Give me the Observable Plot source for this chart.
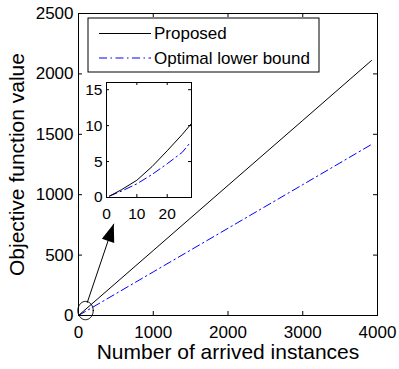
<!DOCTYPE html>
<html><head><meta charset="utf-8">
<script src="https://cdn.jsdelivr.net/npm/d3@7"></script>
<script src="https://cdn.jsdelivr.net/npm/@observablehq/plot@0.6"></script>
<style>
body{margin:0;background:#fff;}
#wrap{position:relative;width:399px;height:369px;font-family:"Liberation Sans",Arial,Helvetica,sans-serif;}
#wrap > svg{position:absolute;left:0;top:0;}
</style></head><body><div id="wrap"></div>
<script>
// ---- data ----
const seriesNames = ["Proposed", "Optimal lower bound"];
const instances = [0, 1000, 2000, 3000, 3920];
const proposed = [0, 538, 1077, 1615, 2111];
const lowerBound = [0, 361, 722, 1083, 1416];
const xTicks = [0, 1000, 2000, 3000, 4000];
const yTicks = [0, 500, 1000, 1500, 2000, 2500];

const insetInstances = [1, 5, 10, 15, 20, 25, 28];
const insetProposed = [0.2, 1.1, 2.4, 4.3, 6.5, 8.8, 10.3];
const insetLowerX = [1, 5, 10, 15, 20, 25, 27.5];
const insetLower = [0.2, 0.9, 1.9, 3.2, 4.7, 6.3, 7.6];
const insetXTicks = [0, 10, 20];
const insetYTicks = [0, 5, 10, 15];

// annotation (data units of main chart)
const ellipseCenter = [94, 41];
const ellipseRadius = [103, 76];
const arrowFrom = [116, 105];
const arrowTo = [472, 759];

const FONT = '"Liberation Sans",Arial,Helvetica,sans-serif';
const BLUE = "#0000ff";
const DASH = "8,3.5,1.5,3.5";

const mainProposed = instances.map((x, i) => ({x, y: proposed[i]}));
const mainLower = instances.map((x, i) => ({x, y: lowerBound[i]}));
const ellipsePts = d3.range(0, 361, 6).map(a => ({
  x: ellipseCenter[0] + ellipseRadius[0] * Math.cos(a * Math.PI / 180),
  y: ellipseCenter[1] + ellipseRadius[1] * Math.sin(a * Math.PI / 180)
}));

function headMarker(color) {
  const m = d3.create("svg:marker")
    .attr("viewBox", "-18 -6.5 18 13")
    .attr("markerWidth", 18).attr("markerHeight", 13)
    .attr("markerUnits", "userSpaceOnUse")
    .attr("orient", "auto")
    .attr("refX", 0).attr("refY", 0)
    .attr("overflow", "visible");
  m.append("path").attr("d", "M-18,-6.5L0,0L-18,6.5Z").attr("fill", color).attr("stroke", "none");
  return m.node();
}

const W = 399, H = 369, ML = 78, MR = 22, MT = 13, MB = 54;
const FW = W - ML - MR, FH = H - MT - MB, TL = 4;

function mainPlot(marker) {
  return Plot.plot({
    width: W, height: H,
    marginLeft: ML, marginRight: MR, marginTop: MT, marginBottom: MB,
    x: {domain: [0, 4000]},
    y: {domain: [0, 2500]},
    style: {fontFamily: FONT, fontSize: "17px", background: "white", color: "black", overflow: "visible"},
    marks: [
      Plot.axisX({ticks: xTicks, tickSize: 0, tickPadding: 10, tickFormat: "d", label: null, fontSize: 17}),
      Plot.axisY({ticks: yTicks, tickSize: 0, tickPadding: 5, tickFormat: "d", label: null, fontSize: 17}),
      Plot.tickX(xTicks, {x: d => d, stroke: "black", insetTop: FH - TL}),
      Plot.tickX(xTicks, {x: d => d, stroke: "black", insetBottom: FH - TL}),
      Plot.tickY(yTicks, {y: d => d, stroke: "black", insetRight: FW - TL}),
      Plot.tickY(yTicks, {y: d => d, stroke: "black", insetLeft: FW - TL}),
      Plot.line(mainLower, {x: "x", y: "y", stroke: BLUE, strokeWidth: 1, strokeDasharray: DASH}),
      Plot.line(mainProposed, {x: "x", y: "y", stroke: "black", strokeWidth: 1}),
      Plot.line(ellipsePts, {x: "x", y: "y", stroke: "black", strokeWidth: 1, curve: "linear-closed"}),
      Plot.link([{}], {x1: () => arrowFrom[0], y1: () => arrowFrom[1], x2: () => arrowTo[0], y2: () => arrowTo[1], stroke: "black", strokeWidth: 1, markerEnd: marker}),
      Plot.frame({stroke: "black", strokeWidth: 1}),
      Plot.text(["Number of arrived instances"], {text: d => d, frameAnchor: "bottom", dy: 37, fontSize: 21, textAnchor: "middle", lineAnchor: "middle"}),
      Plot.text(["Objective function value"], {text: d => d, frameAnchor: "left", dx: -61, rotate: -90, fontSize: 21, textAnchor: "middle", lineAnchor: "middle"})
    ]
  });
}

let main;
try { main = mainPlot(headMarker); } catch (e) { main = mainPlot("arrow"); }

const IW = 140, IH = 160, IML = 46, IMR = 9, IMT = 7, IMB = 38;
const IFW = IW - IML - IMR, IFH = IH - IMT - IMB, ITL = 3;
const inset = Plot.plot({
  width: IW, height: IH,
  marginLeft: IML, marginRight: IMR, marginTop: IMT, marginBottom: IMB,
  x: {domain: [0, 28]},
  y: {domain: [0, 16]},
  style: {fontFamily: FONT, fontSize: "15.5px", background: "none", color: "black", overflow: "visible"},
  marks: [
    Plot.frame({fill: "white", stroke: "none"}),
    Plot.axisX({ticks: insetXTicks, tickSize: 0, tickPadding: 10, tickFormat: "d", label: null, fontSize: 15.5}),
    Plot.axisY({ticks: insetYTicks, tickSize: 0, tickPadding: 4, tickFormat: "d", label: null, fontSize: 15.5}),
    Plot.tickX(insetXTicks, {x: d => d, stroke: "black", insetTop: IFH - ITL}),
    Plot.tickX(insetXTicks, {x: d => d, stroke: "black", insetBottom: IFH - ITL}),
    Plot.tickY(insetYTicks, {y: d => d, stroke: "black", insetRight: IFW - ITL}),
    Plot.tickY(insetYTicks, {y: d => d, stroke: "black", insetLeft: IFW - ITL}),
    Plot.line(insetLowerX.map((x, i) => ({x, y: insetLower[i]})), {x: "x", y: "y", stroke: BLUE, strokeWidth: 1, strokeDasharray: DASH}),
    Plot.line(insetInstances.map((x, i) => ({x, y: insetProposed[i]})), {x: "x", y: "y", stroke: "black", strokeWidth: 1}),
    Plot.frame({stroke: "black", strokeWidth: 1})
  ]
});
inset.style.left = "60px";
inset.style.top = "75px";

// legend
const legend = d3.create("svg").attr("width", W).attr("height", H)
  .style("position", "absolute").style("left", 0).style("top", 0)
  .style("font-family", FONT).style("overflow", "visible");
legend.append("rect").attr("x", 88).attr("y", 18).attr("width", 231).attr("height", 54)
  .attr("fill", "white").attr("stroke", "black").attr("stroke-width", 1);
const rows = [
  {name: seriesNames[0], stroke: "black", dash: null, y: 33.5},
  {name: seriesNames[1], stroke: BLUE, dash: DASH, y: 58}
];
rows.forEach(r => {
  legend.append("line").attr("x1", 99).attr("x2", 151).attr("y1", r.y).attr("y2", r.y)
    .attr("stroke", r.stroke).attr("stroke-width", 1).attr("stroke-dasharray", r.dash);
  legend.append("text").attr("x", 154).attr("y", r.y).attr("dy", "0.35em")
    .attr("font-size", 17).attr("fill", "black").text(r.name);
});

const wrap = document.getElementById("wrap");
wrap.append(main);
wrap.append(inset);
wrap.append(legend.node());
</script></body></html>
